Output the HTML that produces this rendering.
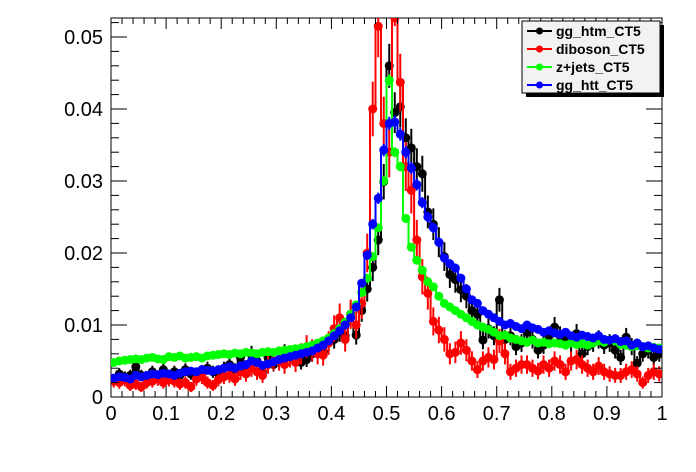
<!DOCTYPE html>
<html><head><meta charset="utf-8"><style>
body{margin:0;background:#fff;}
svg{display:block;font-family:"Liberation Sans",sans-serif;}
</style></head><body>
<svg id="c" width="696" height="472" xmlns="http://www.w3.org/2000/svg"></svg>
<script>
const xTickLabels=["0","0.1","0.2","0.3","0.4","0.5","0.6","0.7","0.8","0.9","1"];
const yTickLabels=["0","0.01","0.02","0.03","0.04","0.05"];
const yTickValues=[0,0.01,0.02,0.03,0.04,0.05];
const seriesNames=["gg_htm_CT5","diboson_CT5","z+jets_CT5","gg_htt_CT5"];
const seriesColors=["#000000","#ff0000","#00ff00","#0000ff"];
// values in units of 1e-3, 100 bins from 0 to 1
const ggHtm=[2.5,3.2,2.8,3.0,4.2,3.0,2.8,3.5,2.7,3.8,2.5,3.5,3.0,3.8,3.2,2.8,3.6,4.0,3.5,3.2,4.0,4.5,3.8,5.5,4.2,6.0,5.0,3.5,5.5,4.5,5.0,6.2,5.5,5.8,4.8,5.2,6.0,6.5,6.3,7.5,8.0,9.0,8.5,11.5,8.6,12.0,15.0,18.0,21.8,29.9,46.0,39.5,40.3,36.0,34.6,32.0,31.0,25.7,24.0,21.5,19.5,17.0,16.3,14.9,14.0,12.0,11.5,7.9,9.5,8.5,13.5,8.0,8.5,7.0,7.5,9.0,8.0,6.5,7.2,8.5,9.7,8.5,8.0,7.5,8.8,6.0,7.0,7.5,8.0,7.2,7.5,6.5,5.5,8.3,7.0,4.7,6.0,6.5,5.5,6.0];
const diboson=[2.2,2.0,2.4,1.6,1.8,1.4,2.0,2.2,2.5,2.0,2.4,2.2,1.8,2.0,1.4,2.5,2.8,2.0,1.6,2.4,2.8,3.0,2.5,3.5,3.2,4.0,3.5,3.0,4.5,5.0,5.0,4.5,5.5,4.8,6.0,7.0,6.5,6.0,5.8,7.5,9.5,11.0,8.0,11.5,10.0,13.0,20.0,40.0,51.5,38.0,34.0,56.0,43.7,32.0,28.7,21.8,16.7,14.4,10.5,9.3,8.0,6.0,6.2,7.5,6.5,5.0,3.8,5.0,5.5,5.2,7.8,6.0,3.5,4.0,4.5,4.5,4.0,3.6,4.5,4.0,5.0,4.5,3.5,5.0,5.2,4.5,4.0,3.5,4.3,3.5,3.2,3.0,3.0,3.5,3.8,3.2,2.0,3.0,3.5,3.2];
const zjets=[4.8,5.0,5.1,5.2,5.3,5.2,5.4,5.5,5.3,5.2,5.6,5.5,5.7,5.4,5.5,5.6,5.4,5.7,5.8,5.9,6.0,5.9,6.1,6.0,6.2,6.1,6.0,6.2,6.3,6.2,6.4,6.5,6.6,6.7,6.8,7.0,7.2,7.5,7.8,8.2,8.8,9.5,10.4,11.5,12.8,14.5,16.5,19.5,23.5,30.0,44.0,34.0,32.0,24.8,20.8,19.0,17.6,16.0,15.3,14.0,13.0,12.5,12.0,11.5,11.0,10.5,10.0,9.7,9.4,9.0,8.5,8.6,8.2,8.0,7.8,7.6,7.9,7.5,7.6,7.4,7.5,7.4,7.2,7.5,7.3,7.4,7.2,7.5,7.8,7.6,7.9,7.8,7.3,7.2,7.0,7.1,7.0,6.8,6.9,6.8];
const ggHtt=[2.6,2.8,2.7,2.5,3.0,2.8,3.0,3.2,3.1,3.3,3.2,3.0,3.3,3.5,3.6,3.5,3.8,3.7,3.6,3.8,4.0,4.2,4.0,4.3,4.5,5.0,4.8,4.4,4.6,4.9,5.2,5.4,5.6,5.8,6.0,6.2,6.4,6.8,7.2,7.8,8.5,9.2,10.0,11.0,12.5,15.8,19.7,24.0,27.6,34.3,38.0,38.2,36.5,34.0,31.8,29.5,27.0,25.0,23.5,21.5,19.3,18.5,17.9,16.5,15.0,13.5,13.0,12.0,11.5,11.0,10.5,10.0,10.2,9.8,9.5,10.0,9.6,9.4,9.0,9.2,8.9,8.7,9.0,8.5,8.3,8.6,8.4,8.2,8.5,8.0,7.9,8.1,7.7,7.8,7.2,7.5,7.0,7.1,6.8,6.6];
const errScale=[0.45,0.6,0.12,0.15];

const NS="http://www.w3.org/2000/svg";
const svg=document.getElementById('c');
const L=111,R=662,T=18,B=397;
const YMAX=(B-T)/7200;
const xs=v=>L+v*(R-L);
const ys=v=>Math.max(T, B-v/YMAX*(B-T));
function mk(tag,attrs,parent){const e=document.createElementNS(NS,tag);for(const k in attrs)e.setAttribute(k,attrs[k]);(parent||svg).appendChild(e);return e;}

const frame=mk('rect',{x:L,y:T,width:R-L,height:B-T,fill:'#fff',stroke:'#000','stroke-width':1});



const clip=mk('clipPath',{id:'pc'});mk('rect',{x:L,y:T,width:R-L,height:B-T},clip);
const all=[ggHtm,diboson,zjets,ggHtt];
all.forEach((arr,si)=>{
  const g=mk('g',{'clip-path':'url(#pc)'});
  
  
  const col=seriesColors[si];
  const yr=v=>(B-v/1000/YMAX*(B-T)).toFixed(1);
  let d='';
  arr.forEach((v,i)=>{d+=(i?'L':'M')+xs(i/100).toFixed(1)+' '+yr(v)+' L'+xs((i+1)/100).toFixed(1)+' '+yr(v)+' ';});
  mk('path',{d:d,fill:'none',stroke:col,'stroke-width':2},g);
  arr.forEach((v,i)=>{
    const val=v/1000;
    const e=errScale[si]*Math.sqrt(v)/1000;
    const cx=xs((i+0.5)/100), cy=ys(val);
    mk('line',{x1:cx,x2:cx,y1:ys(val+e),y2:ys(Math.max(0,val-e)),stroke:col,'stroke-width':2},g);
    const c=mk('circle',{cx:cx,cy:cy,r:4.5,fill:col},g);
    
    
  });
});

const ax=mk('g',{stroke:'#000','stroke-width':1});


for(let i=0;i<=50;i++){const x=xs(i/50);const len=i%5===0?11:6;
  mk('line',{x1:x,x2:x,y1:B,y2:B-len},ax);mk('line',{x1:x,x2:x,y1:T,y2:T+len},ax);}
for(let v=0;v<=0.0526;v+=0.002){const y=ys(v);const maj=Math.round(v*1000)%10===0;const len=maj?16:8;
  mk('line',{x1:L,x2:L+len,y1:y,y2:y},ax);mk('line',{x1:R,x2:R-len,y1:y,y2:y},ax);}
xTickLabels.forEach((t,i)=>{const e=mk('text',{x:xs(i/10),y:420,'text-anchor':'middle','font-size':20,fill:'#000'});e.textContent=t;
  });
yTickLabels.forEach((t,i)=>{const e=mk('text',{x:103,y:ys(yTickValues[i])+7,'text-anchor':'end','font-size':20,fill:'#000'});e.textContent=t;
  });

const lg=mk('g',{});


mk('rect',{x:526,y:25,width:138,height:72,fill:'#000'},lg);
mk('rect',{x:522,y:21,width:138,height:72,fill:'#f2f2f2',stroke:'#000','stroke-width':1},lg);
seriesNames.forEach((n,i)=>{const y=31+i*18;
  const en=mk('g',{},lg);
  
  
  mk('line',{x1:527,x2:552,y1:y,y2:y,stroke:seriesColors[i],'stroke-width':2},en);
  mk('circle',{cx:539.5,cy:y,r:3.5,fill:seriesColors[i]},en);
  const t=mk('text',{x:556,y:y+5,'font-size':14,'font-weight':'bold',fill:'#000'},en);t.textContent=n;});
</script>
</body></html>
